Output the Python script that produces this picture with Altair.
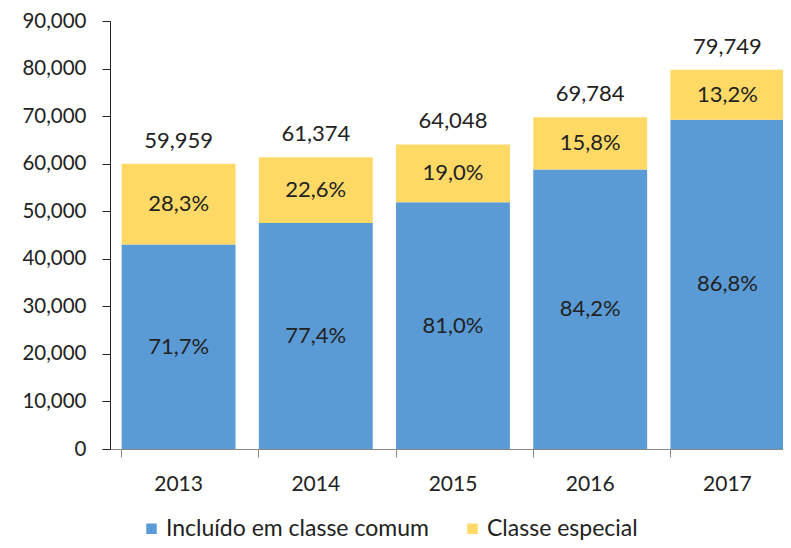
import altair as alt
import pandas as pd

years = ["2013", "2014", "2015", "2016", "2017"]
series = ["Incluído em classe comum", "Classe especial"]
comum = [42991, 47503, 51879, 58758, 69222]
especial = [16968, 13871, 12169, 11026, 10527]
comum_pct = ["71,7%", "77,4%", "81,0%", "84,2%", "86,8%"]
especial_pct = ["28,3%", "22,6%", "19,0%", "15,8%", "13,2%"]
totals = [59959, 61374, 64048, 69784, 79749]
total_labels = ["59,959", "61,374", "64,048", "69,784", "79,749"]

rows = []
for i, y in enumerate(years):
    rows.append({"year": y, "series": series[0], "order": 0, "value": comum[i], "label": comum_pct[i]})
    rows.append({"year": y, "series": series[1], "order": 1, "value": especial[i], "label": especial_pct[i]})
df = pd.DataFrame(rows)
tot = pd.DataFrame({"year": years, "total": totals, "label": total_labels})

FONT = "Lato"
FS = 21
x = alt.X("year:N", title=None,
          scale=alt.Scale(paddingInner=0.17, paddingOuter=0.085, range=[0, 686]),
          axis=alt.Axis(labelAngle=0, labelFontSize=FS, labelColor="#222", labelPadding=16,
                        tickSize=8, tickColor="#888", domainColor="#888", bandPosition=0,
                        labelFont=FONT))
yscale = alt.Scale(domain=[0, 90000])

base = alt.Chart(df).transform_stack(
    stack="value", groupby=["year"], as_=["v0", "v1"], sort=[alt.SortField("order")]
).transform_calculate(mid="(datum.v0 + datum.v1) / 2")

bars = base.mark_bar().encode(
    x=x,
    y=alt.Y("v0:Q", scale=yscale, title=None,
            axis=alt.Axis(values=list(range(0, 90001, 10000)), format=",.0f", labelFontSize=20.5,
                          labelColor="#222", labelFont=FONT, grid=False, tickSize=8,
                          tickColor="#222", domainColor="#222", labelPadding=16)),
    y2="v1:Q",
    color=alt.Color("series:N", scale=alt.Scale(domain=series, range=["#5B9BD5", "#FFD966"]),
                    sort=series,
                    legend=alt.Legend(title=None, orient="none", legendX=30, legendY=496,
                                      direction="horizontal", symbolType="square", symbolSize=110,
                                      symbolStrokeWidth=0, labelFontSize=23, labelFont=FONT,
                                      labelColor="#222", columnPadding=32, labelOffset=3,
                                      labelLimit=400)),
)

texts = base.mark_text(fontSize=22, font=FONT, color="#222").encode(
    x=x, y=alt.Y("mid:Q", scale=yscale), text="label:N"
)

tot_text = alt.Chart(tot).mark_text(fontSize=22, font=FONT, color="#222", baseline="bottom", dy=-11).encode(
    x=x, y=alt.Y("total:Q", scale=yscale), text="label:N"
)

chart = alt.layer(bars, texts, tot_text).properties(
    width=673, height=428,
    padding={"left": 102, "top": 13, "right": 0, "bottom": 96},
    autosize=alt.AutoSizeParams(type="none"),
).configure_view(stroke=None)

chart.save("out.html", embed_options={"renderer": "svg", "actions": False})
